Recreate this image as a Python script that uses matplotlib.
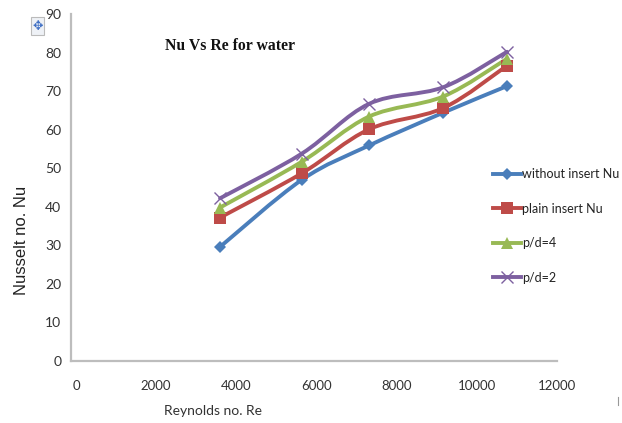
import numpy as np
import matplotlib
matplotlib.use('Agg')
import matplotlib.pyplot as plt
from matplotlib.lines import Line2D
from matplotlib.patches import PathPatch, Rectangle
from matplotlib.path import Path
from matplotlib.transforms import ScaledTranslation

W, H = 622, 423

# data:
re_vals = [3680, 5700, 7360, 9190, 10765]
without_insert = [29.6, 47.0, 55.9, 64.4, 71.3]
plain_insert = [37.2, 48.7, 60.1, 65.6, 76.6]
pd4 = [39.8, 51.7, 63.4, 68.6, 78.4]
pd2 = [42.2, 53.8, 66.7, 71.0, 80.2]

names = ['without insert Nu', 'plain insert Nu', 'p/d=4', 'p/d=2']
colors = ['#4A7EBB', '#BE4B48', '#98B954', '#7D60A0']
markers = ['D', 's', '^', 'x']
msizes = [6, 8.5, 8, 8]

xticks = [0, 2000, 4000, 6000, 8000, 10000, 12000]
yticks = list(range(0, 100, 10))


def smooth_path(x, y):
    """excel style smoothed line as bezier segments"""
    p = np.column_stack([x, y])
    verts = [p[0]]
    for i in range(len(p) - 1):
        before = p[max(i - 1, 0)]
        after = p[min(i + 2, len(p) - 1)]
        verts.append(p[i] + (p[i + 1] - before) / 6)
        verts.append(p[i + 1] - (after - p[i]) / 6)
        verts.append(p[i + 1])
    codes = [Path.MOVETO] + [Path.CURVE4] * (len(verts) - 1)
    return Path(verts, codes)


plt.rcParams['font.family'] = ['Lato', 'DejaVu Sans']

fig = plt.figure(figsize=(W / 100, H / 100), dpi=100)
ax = fig.add_axes([71 / W, 1 - 361 / H, 486 / W, 347 / H])
ax.set_xlim(0, 12000)
ax.set_ylim(0, 90)

series = [without_insert, plain_insert, pd4, pd2]
for vals, c, m, ms in zip(series, colors, markers, msizes):
    ax.add_patch(PathPatch(smooth_path(re_vals, vals), fc='none', ec=c, lw=2.8,
                           capstyle='round'))
    ax.plot(re_vals, vals, ls='none', marker=m, ms=ms, color=c,
            mew=1.0 if m == 'x' else 0)

for s in ['top', 'right']:
    ax.spines[s].set_visible(False)
for s in ['left', 'bottom']:
    ax.spines[s].set_color('#BDBDBD')
    ax.spines[s].set_linewidth(1.6)

ax.set_xticks(xticks)
ax.set_yticks(yticks)
ax.tick_params(axis='x', length=0, pad=14, labelsize=9.5, colors='#333333')
ax.tick_params(axis='y', length=0, pad=7, labelsize=10, colors='#333333')

# the x labels sit a little right of the true tick near the origin
for i, lab in enumerate(ax.get_xticklabels()):
    shift = 5 * (1 - i / 6) / 100
    lab.set_transform(lab.get_transform() +
                      ScaledTranslation(shift, 0, fig.dpi_scale_trans))

fig.text(165 / W, 1 - 46 / H, 'Nu Vs Re for water', family='Liberation Serif',
         weight='bold', fontsize=11.3, va='center', ha='left', color='#111111')
fig.text(213 / W, 1 - 411 / H, 'Reynolds no. Re', fontsize=10, va='center',
         ha='center', color='#333333')
fig.text(22 / W, 1 - 240 / H, 'Nusselt no. Nu', family='Liberation Sans', fontsize=12,
         rotation=90, va='center', ha='center', color='#222222')

handles = [Line2D([], [], color=c, lw=2.8, marker=m, ms=ms, mew=1.0 if m == 'x' else 0)
           for c, m, ms in zip(colors, markers, msizes)]
fig.legend(handles, names, loc='upper left', bbox_to_anchor=(493 / W, 1 - 168 / H),
           frameon=False, fontsize=9, handlelength=2.22, handletextpad=0.1,
           labelspacing=1.8, borderpad=0, borderaxespad=0,
           labelcolor='#222222')

# move handle left over from the word processor
fig.add_artist(Rectangle((31 / W, 1 - 35 / H), 13 / W, 18 / H, fc='#EEF1F6',
                         ec='#BBBBBB', lw=0.8, transform=fig.transFigure))
fig.text(37.5 / W, 1 - 26.5 / H, '\u2725', family='DejaVu Sans', fontsize=9,
         color='#3F6FC4', va='center', ha='center')
fig.add_artist(Line2D([618 / W, 618 / W], [1 - 397 / H, 1 - 405 / H], color='#999999',
                      lw=0.8, transform=fig.transFigure))

fig.savefig('out.png', dpi=100)
